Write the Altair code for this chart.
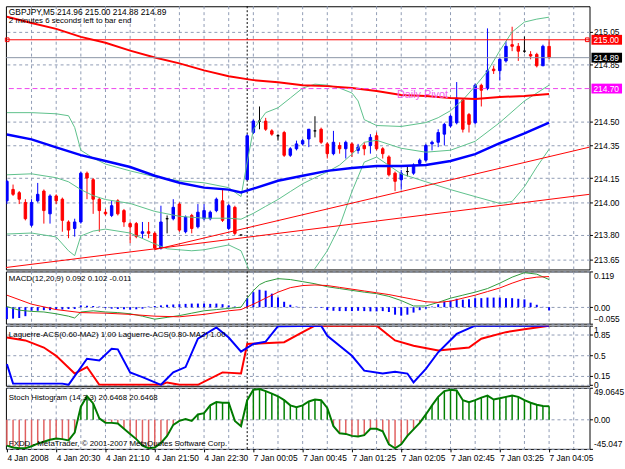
import altair as alt
import pandas as pd

FONT = "Liberation Sans"
GRID = "#8e9ab4"
TITLE_SIZE = 8

# ---------------- time axis ----------------
time_labels = ["4 Jan 2008", "4 Jan 20:30", "4 Jan 21:10", "4 Jan 21:50", "4 Jan 22:30",
               "7 Jan 00:05", "7 Jan 00:45", "7 Jan 01:25", "7 Jan 02:05", "7 Jan 02:45",
               "7 Jan 03:25", "7 Jan 04:05"]
day_separator_bar = 39

# ---------------- GBPJPY M5 candles ----------------
opens = [214.01, 214.08, 214.06, 214.00, 213.86, 214.01, 214.07, 213.93, 214.04, 214.02,
         213.88, 213.84, 213.88, 214.18, 214.14, 214.02, 213.94, 213.92, 214.01, 213.95,
         213.87, 213.87, 213.81, 213.82, 213.81, 213.72, 213.90, 213.90, 213.99, 213.82,
         213.92, 213.85, 213.90, 213.90, 213.95, 214.01, 213.84, 213.97, 213.80, 214.14,
         214.43, 214.50, 214.50, 214.44, 214.41, 214.43, 214.29, 214.33, 214.36, 214.39,
         214.44, 214.45, 214.36, 214.30, 214.35, 214.33, 214.36, 214.32, 214.35, 214.35,
         214.41, 214.33, 214.28, 214.18, 214.14, 214.19, 214.18, 214.24, 214.26, 214.36,
         214.37, 214.42, 214.47, 214.49, 214.63, 214.54, 214.49, 214.72, 214.70, 214.82,
         214.81, 214.87, 214.97, 214.96, 214.93, 214.91, 214.91, 214.84, 214.96]
highs = [214.14, 214.11, 214.07, 214.02, 214.02, 214.12, 214.08, 214.05, 214.05, 214.03,
         213.89, 213.90, 214.19, 214.19, 214.15, 214.03, 213.96, 214.01, 214.02, 213.96,
         213.88, 213.88, 213.88, 213.88, 213.82, 213.98, 213.92, 214.02, 214.00, 213.92,
         213.93, 213.99, 213.99, 213.95, 214.03, 214.08, 213.99, 213.98, 213.80, 214.42,
         214.51, 214.59, 214.52, 214.45, 214.42, 214.44, 214.34, 214.38, 214.39, 214.45,
         214.53, 214.46, 214.37, 214.44, 214.37, 214.38, 214.37, 214.36, 214.37, 214.42,
         214.43, 214.34, 214.29, 214.19, 214.20, 214.22, 214.24, 214.27, 214.36, 214.38,
         214.45, 214.49, 214.54, 214.74, 214.64, 214.55, 214.73, 214.73, 215.07, 214.84,
         214.89, 214.99, 215.08, 214.98, 215.02, 214.93, 214.92, 214.97, 215.00]
lows = [213.99, 214.04, 213.99, 213.89, 213.85, 214.00, 213.87, 213.87, 213.99, 213.82,
        213.78, 213.79, 213.87, 214.02, 213.93, 213.82, 213.92, 213.91, 213.92, 213.85,
        213.75, 213.78, 213.78, 213.78, 213.71, 213.71, 213.81, 213.89, 213.82, 213.81,
        213.81, 213.84, 213.89, 213.89, 213.94, 213.88, 213.83, 213.80, 213.80, 214.14,
        214.42, 214.45, 214.44, 214.41, 214.38, 214.28, 214.28, 214.32, 214.35, 214.34,
        214.40, 214.36, 214.27, 214.29, 214.30, 214.27, 214.28, 214.30, 214.29, 214.30,
        214.32, 214.27, 214.16, 214.07, 214.08, 214.16, 214.17, 214.23, 214.25, 214.32,
        214.34, 214.35, 214.46, 214.48, 214.43, 214.43, 214.48, 214.59, 214.69, 214.79,
        214.75, 214.86, 214.93, 214.87, 214.92, 214.88, 214.83, 214.84, 214.88]
closes = [214.13, 214.05, 214.02, 213.90, 214.00, 214.05, 213.95, 214.04, 214.01, 213.89,
          213.83, 213.88, 214.18, 214.15, 214.02, 213.95, 213.93, 213.98, 213.93, 213.88,
          213.85, 213.79, 213.82, 213.81, 213.72, 213.88, 213.90, 213.97, 213.83, 213.91,
          213.84, 213.94, 213.95, 213.94, 214.02, 213.89, 213.98, 213.81, 213.80, 214.41,
          214.50, 214.50, 214.45, 214.42, 214.41, 214.29, 214.33, 214.36, 214.38, 214.45,
          214.44, 214.37, 214.30, 214.37, 214.33, 214.37, 214.31, 214.34, 214.33, 214.40,
          214.33, 214.30, 214.17, 214.13, 214.18, 214.19, 214.23, 214.26, 214.35, 214.37,
          214.43, 214.48, 214.53, 214.64, 214.45, 214.48, 214.72, 214.69, 214.81, 214.81,
          214.88, 214.96, 214.96, 214.93, 214.93, 214.90, 214.84, 214.96, 214.89]

# ---------------- main-window indicators ----------------
ma_slow_bars = [0, 4, 8, 12, 16, 20, 24, 28, 32, 36, 40, 44, 48, 52, 56, 60, 64, 68, 72, 76, 80, 84, 88]
ma_slow = [215.142, 215.103, 215.067, 215.018, 214.982, 214.933, 214.891, 214.855, 214.812, 214.776,
           214.752, 214.739, 214.721, 214.715, 214.703, 214.685, 214.661, 214.655, 214.642, 214.636,
           214.648, 214.655, 214.667]
ma_mid_bars = [0, 4, 8, 12, 16, 20, 24, 28, 32, 36, 38, 40, 44, 48, 52, 56, 60, 64, 68, 72, 76, 80, 84, 88]
ma_mid = [214.418, 214.388, 214.339, 214.291, 214.255, 214.218, 214.164, 214.121, 214.091, 214.079,
          214.061, 214.085, 214.133, 214.164, 214.194, 214.212, 214.224, 214.224, 214.230, 214.255,
          214.297, 214.364, 214.424, 214.491]

bb_up_bars = [0, 4, 8, 10, 11, 12, 14, 16, 20, 24, 28, 32, 36, 38, 39, 40, 42, 44, 46, 48, 50, 52, 54,
              56, 57, 58, 60, 64, 68, 70, 72, 74, 76, 78, 80, 82, 84, 86, 88]
bb_up = [214.552, 214.552, 214.545, 214.533, 214.461, 214.321, 214.273, 214.236, 214.194, 214.158,
         214.133, 214.121, 214.091, 214.036, 214.248, 214.448, 214.552, 214.582, 214.642, 214.703,
         214.727, 214.721, 214.703, 214.673, 214.624, 214.509, 214.473, 214.467, 214.491, 214.521,
         214.564, 214.630, 214.715, 214.806, 214.933, 215.048, 215.109, 215.127, 215.139]
bb_mid_bars = [0, 4, 8, 10, 12, 14, 16, 20, 24, 28, 32, 36, 38, 40, 42, 44, 46, 48, 50, 52, 54, 56,
               58, 60, 64, 68, 72, 76, 80, 84, 88]
bb_mid = [214.170, 214.176, 214.152, 214.127, 214.079, 214.042, 214.018, 213.994, 213.945, 213.915,
          213.903, 213.903, 213.897, 213.933, 213.976, 214.018, 214.067, 214.115, 214.152, 214.188,
          214.230, 214.297, 214.370, 214.382, 214.333, 214.309, 214.321, 214.376, 214.491, 214.624,
          214.721]
bb_low_bars = [0, 4, 8, 10, 11, 12, 14, 16, 20, 24, 26, 30, 32, 36, 38, 39, 40, 44, 48, 50, 52, 54,
               56, 58, 60, 64, 68, 72, 76, 80, 82, 84, 86, 88]
bb_low = [213.806, 213.812, 213.788, 213.703, 213.673, 213.794, 213.824, 213.836, 213.812, 213.745,
          213.715, 213.703, 213.709, 213.739, 213.703, 213.612, 213.521, 213.461, 213.491, 213.594,
          213.703, 213.855, 214.067, 214.248, 214.279, 214.176, 214.127, 214.079, 214.036, 213.994,
          214.006, 214.097, 214.218, 214.327]

# trend lines (bar, price end points)
trend_a_bars = [-0.16, 94.56]
trend_a = [213.60, 214.05]
trend_b_bars = [24, 94.56]
trend_b = [213.71, 214.34]

resistance = 215.00
bid = 214.89
daily_pivot = 214.70
pivot_text_bar = 63.3

main_ticks = [215.05, 214.85, 214.50, 214.35, 214.15, 214.00, 213.80, 213.65]

# ---------------- MACD(12,20,9) ----------------
macd_hist = [-0.040, -0.038, -0.036, -0.030, -0.012, -0.012, -0.010, -0.010, -0.008, -0.008,
             -0.006, -0.006, 0.006, 0.005, 0.004, 0.002, -0.003, -0.005, -0.006, -0.007,
             -0.008, -0.007, -0.005, 0.002, 0.004, 0.006, 0.008, 0.009, 0.010, 0.011,
             0.012, 0.012, 0.012, 0.011, 0.012, 0.010, 0.006, 0.002, 0.000, 0.030,
             0.050, 0.058, 0.055, 0.045, 0.032, 0.018, 0.008, 0.002, 0.001, 0.000,
             -0.001, -0.002, -0.010, -0.012, -0.013, -0.013, -0.013, -0.012, -0.013, -0.014,
             -0.014, -0.013, -0.016, -0.025, -0.028, -0.025, -0.018, -0.010, -0.005, 0.002,
             0.010, 0.018, 0.022, 0.028, 0.025, 0.026, 0.030, 0.030, 0.032, 0.032,
             0.032, 0.030, 0.030, 0.028, 0.026, 0.015, 0.008, 0.001, -0.011]
macd_main_bars = [0, 2, 4, 6, 8, 10, 11, 12, 14, 16, 18, 20, 22, 24, 26, 28, 30, 32, 34, 36, 38, 39,
                  40, 41, 42, 44, 46, 48, 50, 52, 54, 56, 58, 60, 62, 64, 66, 68, 70, 72, 74, 76,
                  78, 80, 82, 84, 86, 88]
macd_main = [0.002, -0.010, -0.014, -0.016, -0.022, -0.030, -0.036, -0.016, -0.012, -0.016,
             -0.018, -0.022, -0.030, -0.040, -0.034, -0.028, -0.020, -0.012, -0.008, -0.004,
             0.000, 0.030, 0.055, 0.075, 0.085, 0.095, 0.092, 0.085, 0.078, 0.068,
             0.062, 0.056, 0.050, 0.045, 0.036, 0.022, 0.004, 0.004, 0.016, 0.030,
             0.040, 0.050, 0.062, 0.080, 0.100, 0.115, 0.110, 0.092]
macd_signal_bars = [0, 4, 8, 12, 16, 20, 24, 28, 32, 36, 38, 40, 42, 44, 46, 48, 50, 52, 54, 56, 58,
                    60, 62, 64, 66, 68, 70, 72, 74, 76, 78, 80, 82, 84, 86, 88]
macd_signal = [0.040, 0.010, -0.008, -0.018, -0.020, -0.024, -0.030, -0.032, -0.024, -0.012,
               -0.008, 0.010, 0.030, 0.050, 0.065, 0.072, 0.074, 0.072, 0.066, 0.060,
               0.054, 0.048, 0.042, 0.034, 0.026, 0.018, 0.016, 0.020, 0.030, 0.040,
               0.052, 0.064, 0.080, 0.094, 0.100, 0.102]

# ---------------- Laguerre-ACS ----------------
lag_fast_bars = [0, 1, 9, 10, 13, 15, 17, 18, 20, 22, 25, 27, 29, 31, 34, 36, 38, 40, 42, 44, 51,
                 52, 56, 58, 61, 63, 65, 66, 68, 70, 73, 76, 88]
lag_fast = [0.35, 0.02, 0.02, 0.00, 0.44, 0.41, 0.61, 0.60, 0.21, 0.13, 0.00, 0.21, 0.30, 0.78,
            0.97, 0.80, 0.56, 0.69, 0.73, 0.99, 1.00, 0.83, 0.49, 0.24, 0.19, 0.22, 0.19, 0.04,
            0.27, 0.55, 0.86, 1.00, 1.00]
lag_slow_bars = [0, 3, 6, 8, 11, 13, 15, 25, 26, 28, 31, 35, 38, 39, 45, 48, 50, 60, 63, 66, 70,
                 75, 77, 81, 84, 88]
lag_slow = [0.80, 0.75, 0.63, 0.49, 0.19, 0.30, 0.00, 0.00, 0.04, 0.00, 0.00, 0.21, 0.19, 0.69,
            0.72, 0.89, 1.00, 1.00, 0.75, 0.66, 0.58, 0.63, 0.78, 0.89, 0.94, 1.00]

# ---------------- Stoch Histogram (14,3,3) ----------------
stoch = [-40, -43, -44, -44, -41, -37, -34, -31, -29, -30,
         -32, -20, 20, 36, 25, 2, -5, -5, -6, -14,
         -22, -30, -40, -44, -43, -36, -25, -8, -2, 1,
         -2, 8, 10, 22, 27, 26, 26, -2, -10, 30,
         46, 47, 44, 40, 36, 30, 22, 19, 22, 28,
         31, 30, 18, -10, -21, -22, -25, -26, -24, -14,
         -14, -18, -38, -44, -38, -25, -15, -5, 8, 22,
         35, 44, 46, 45, 30, 27, 30, 34, 37, 31,
         33, 35, 37, 35, 30, 26, 23, 21, 20.6468]

# ---------------- layout ----------------
W = 592
H_MAIN, H_MACD, H_LAG, H_STO = 267, 53, 61, 62
XS = alt.Scale(domain=[-0.16, 94.56], nice=False, zero=False)
grid_bars = list(range(4, 93, 4))

label_array = "[" + ",".join("'" + t + "'" for t in time_labels) + "]"

BOTTOM_AXIS = alt.Axis(values=list(range(0, 89, 8)), grid=False, domain=False,
                       ticks=True, tickSize=3, tickColor="black",
                       labelAlign="left", labelPadding=2,
                       labelFont=FONT, labelFontSize=8.5, labelColor="black",
                       labelExpr=label_array + "[round(datum.value / 8)]",
                       labelOverlap=False, labelFlush=False, title=None)


def X(field="bar", bottom=False):
    return alt.X(f"{field}:Q", scale=XS, axis=BOTTOM_AXIS if bottom else None)


def y_axis(values, expr=None, flush=False):
    kw = dict(values=values, orient="right", grid=True, gridDash=[3, 3], gridColor=GRID,
              domain=False, tickSize=3, tickColor="black", labelPadding=1,
              labelFont=FONT, labelFontSize=8.5, labelColor="black",
              labelOverlap=False, title=None)
    if expr:
        kw["labelExpr"] = expr
    else:
        kw["format"] = ".2f"
    if flush:
        kw["labelFlush"] = True
    return alt.Axis(**kw)


grid_df = pd.DataFrame({"bar": grid_bars})
sep_df = pd.DataFrame({"bar": [day_separator_bar]})


def vgrid(bottom=False):
    return alt.Chart(grid_df).mark_rule(color=GRID, strokeDash=[3, 3], strokeWidth=1).encode(
        x=X(bottom=bottom))


def sep_layer(bottom=False):
    return alt.Chart(sep_df).mark_rule(color="black", strokeDash=[2, 2], strokeWidth=1).encode(
        x=X(bottom=bottom))


def line_df(bars, vals):
    return pd.DataFrame({"bar": bars, "v": vals})


def label_text(text, y, size=TITLE_SIZE, baseline="middle"):
    return alt.Chart(pd.DataFrame({"t": [text]})).mark_text(
        align="left", baseline=baseline, font=FONT, fontSize=size, color="black").encode(
        x=alt.value(3), y=alt.value(y), text="t:N")


# ---------------- main window ----------------
YM = alt.Scale(domain=[213.588, 215.206], nice=False, zero=False)


def YMain(field):
    return alt.Y(f"{field}:Q", scale=YM, axis=y_axis(main_ticks))


candles = pd.DataFrame({"bar": list(range(len(opens))), "open": opens, "high": highs,
                        "low": lows, "close": closes})
candles["col"] = ["#0000ff" if c > o else ("#ff0000" if c < o else "#000000")
                  for o, c in zip(opens, closes)]
candle_color = alt.Color("col:N", scale=None)


def main_line(bars, vals, color, width, dash=None):
    kw = dict(color=color, strokeWidth=width, clip=True)
    if dash:
        kw["strokeDash"] = dash
    return alt.Chart(line_df(bars, vals)).mark_line(**kw).encode(x=X(), y=YMain("v"))


wicks = alt.Chart(candles).mark_rule(strokeWidth=1, clip=True).encode(
    x=X(), y=YMain("low"), y2="high", color=candle_color)
bodies = alt.Chart(candles).transform_calculate(
    xl="datum.bar - 0.2", xr="datum.bar + 0.2"
).mark_rect(strokeWidth=1, clip=True).encode(
    x=X("xl"), x2="xr", y=YMain("open"), y2="close", color=candle_color, stroke=candle_color)

hlines = pd.DataFrame({"v": [resistance, bid], "c": ["#ff0000", "#8a94a6"]})
hline_layer = alt.Chart(hlines).mark_rule(strokeWidth=1).encode(
    y=YMain("v"), color=alt.Color("c:N", scale=None))
pivot_layer = alt.Chart(pd.DataFrame({"v": [daily_pivot]})).mark_rule(
    color="#ee44ee", strokeWidth=1, strokeDash=[5, 3]).encode(y=YMain("v"))

anchor_df = pd.DataFrame({"bar": [0.05, 94.2], "v": [resistance, resistance]})
anchor_layer = alt.Chart(anchor_df).mark_point(shape="square", size=14, filled=False,
                                               color="#ff0000", strokeWidth=1, opacity=1).encode(
    x=X(), y=YMain("v"))

pivot_text = alt.Chart(pd.DataFrame({"bar": [pivot_text_bar], "v": [daily_pivot]})).mark_text(
    text="Daily Pivot", align="left", baseline="top", dy=1, font=FONT, fontSize=11,
    color="#f060f0").encode(x=X(), y=YMain("v"))

tags = pd.DataFrame({"v": [resistance, bid, daily_pivot],
                     "bg": ["#ff0000", "#000000", "#ff00ff"]})
tags["t"] = [f"{p:.2f}" for p in tags["v"]]
tag_box = alt.Chart(tags).mark_rect(clip=False, yOffset=-5, y2Offset=5).encode(
    x=alt.value(W + 2), x2=alt.value(W + 33), y=YMain("v"), y2="v",
    color=alt.Color("bg:N", scale=None))
tag_text = alt.Chart(tags).mark_text(align="left", baseline="middle", font=FONT, fontSize=8.5,
                                     color="white").encode(
    x=alt.value(W + 4), y=YMain("v"), text="t:N")

main = alt.layer(
    vgrid(), sep_layer(),
    wicks, bodies,
    main_line(bb_up_bars, bb_up, "#5cc08a", 1),
    main_line(bb_mid_bars, bb_mid, "#5cc08a", 1),
    main_line(bb_low_bars, bb_low, "#5cc08a", 1),
    main_line(ma_slow_bars, ma_slow, "#ff0000", 2),
    main_line(ma_mid_bars, ma_mid, "#0000ff", 2.5),
    main_line(trend_a_bars, trend_a, "#ff0000", 1),
    main_line(trend_b_bars, trend_b, "#ff0000", 1),
    hline_layer, pivot_layer, anchor_layer, pivot_text,
    tag_box, tag_text,
    label_text("GBPJPY,M5  214.96 215.00 214.88 214.89", 1.5, 8.5, "top"),
    label_text("2 minutes 6 seconds left to bar end", 10.5, TITLE_SIZE, "top"),
).properties(width=W, height=H_MAIN)

# ---------------- MACD window ----------------
YMACD = alt.Scale(domain=[-0.055, 0.119], nice=False, zero=False)
macd_expr = "datum.value == 0 ? '0.00' : format(datum.value, '.3f')"


def YMacd(field):
    return alt.Y(f"{field}:Q", scale=YMACD, axis=y_axis([0.119, 0, -0.055], macd_expr, True))


hist_df = pd.DataFrame({"bar": list(range(len(macd_hist))), "v": macd_hist})
hist_df["zero"] = 0.0
macd_hist_layer = alt.Chart(hist_df).mark_rule(color="#0000ff", strokeWidth=2).encode(
    x=X(), y=YMacd("zero"), y2="v")
macd_main_layer = alt.Chart(line_df(macd_main_bars, macd_main)).mark_line(
    color="#2e9a3a", strokeWidth=1).encode(x=X(), y=YMacd("v"))
macd_sig_layer = alt.Chart(line_df(macd_signal_bars, macd_signal)).mark_line(
    color="#ff0000", strokeWidth=1).encode(x=X(), y=YMacd("v"))
macd = alt.layer(vgrid(), sep_layer(), macd_hist_layer, macd_main_layer, macd_sig_layer,
                 label_text("MACD(12,20,9) 0.092 0.102 -0.011", 8)
                 ).properties(width=W, height=H_MACD)

# ---------------- Laguerre window ----------------
YLAG = alt.Scale(domain=[-0.017, 1.0], nice=False, zero=False)


def YLag(field):
    return alt.Y(f"{field}:Q", scale=YLAG,
                 axis=y_axis([1, 0.85, 0.5, 0.15, 0], "'' + datum.value", True))


lag_fast_layer = alt.Chart(line_df(lag_fast_bars, lag_fast)).mark_line(
    color="#0000ff", strokeWidth=2, clip=True).encode(x=X(), y=YLag("v"))
lag_slow_layer = alt.Chart(line_df(lag_slow_bars, lag_slow)).mark_line(
    color="#ff0000", strokeWidth=2, clip=True).encode(x=X(), y=YLag("v"))
lag = alt.layer(vgrid(), sep_layer(), lag_slow_layer, lag_fast_layer,
                label_text("Laguerre-ACS(0.60-MA2) 1.00  Laguerre-ACS(0.80-MA2) 1.00", 10)
                ).properties(width=W, height=H_LAG)

# ---------------- Stoch histogram window ----------------
YSTO = alt.Scale(domain=[-45.047, 49.0645], nice=False, zero=False)
sto_expr = "datum.value == 0 ? '0.00' : '' + datum.value"


def YSto(field):
    return alt.Y(f"{field}:Q", scale=YSTO, axis=y_axis([49.0645, 0, -45.047], sto_expr, True))


sto_df = pd.DataFrame({"bar": list(range(len(stoch))), "v": stoch})
sto_df["zero"] = 0.0
sto_df["col"] = ["#008000" if v >= 0 else "#e06060" for v in stoch]
sto_bars = alt.Chart(sto_df).mark_rule(strokeWidth=1.5).encode(
    x=X(bottom=True), y=YSto("zero"), y2="v", color=alt.Color("col:N", scale=None))
sto_line = alt.Chart(sto_df).mark_line(color="#007a00", strokeWidth=2, clip=True).encode(
    x=X(bottom=True), y=YSto("v"))
sto = alt.layer(vgrid(True), sep_layer(True), sto_bars, sto_line,
                label_text("Stoch Histogram (14,3,3) 20.6468 20.6468", 10),
                label_text("FXDD - MetaTrader, \u00a9 2001-2007 MetaQuotes Software Corp.", H_STO - 5)
                ).properties(width=W, height=H_STO)

chart = alt.vconcat(main, macd, lag, sto, spacing=2, bounds="flush").resolve_scale(
    y="independent"
).properties(
    padding={"left": 2, "top": 2, "right": 0, "bottom": 0},
    background="white",
).configure_view(stroke="black", strokeWidth=1)

chart.save("out.html", embed_options={"renderer": "svg", "actions": False})
